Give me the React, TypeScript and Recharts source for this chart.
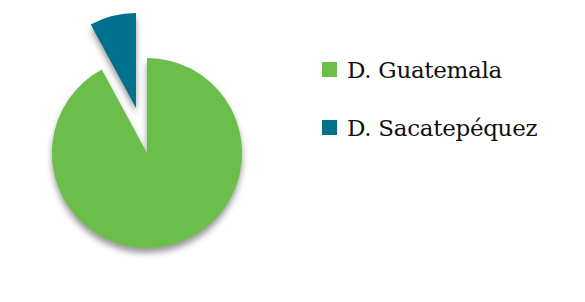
import { PieChart, Pie, Cell, Legend } from "recharts"

const departments = ["D. Guatemala", "D. Sacatepéquez"]
const shares = [92.1, 7.9]
const colors = ["#6cbe4b", "#00718d"]

const data = departments.map((name, i) => ({ name, value: shares[i] }))

const shadow = { filter: "drop-shadow(0px 5px 3px rgba(0,0,0,0.4))" }

function LegendList() {
  return (
    <div style={{ fontFamily: "'DejaVu Serif', serif", fontSize: 23, color: "#111", letterSpacing: -0.3 }}>
      {departments.map((name, i) => (
        <div key={name} style={{ display: "flex", alignItems: "center", height: 29, marginBottom: 29 }}>
          <span style={{ width: 15, height: 15, background: colors[i], marginRight: 10, display: "inline-block" }} />
          <span>{name}</span>
        </div>
      ))}
    </div>
  )
}

export default function App() {
  return (
    <div style={{ position: "absolute", left: 0, top: 0, width: 585, height: 302, background: "#fff" }}>
      <PieChart width={585} height={302}>
        {/* main pie: Guatemala slice only */}
        <Pie
          data={data}
          dataKey="value"
          nameKey="name"
          cx={142}
          cy={148}
          outerRadius={95}
          startAngle={90}
          endAngle={-270}
          stroke="none"
          isAnimationActive={false}
        >
          {data.map((_, i) => (
            <Cell key={i} fill={i === 0 ? colors[0] : "transparent"} style={i === 0 ? shadow : undefined} />
          ))}
        </Pie>
        {/* exploded Sacatepéquez slice */}
        <Pie
          data={data}
          dataKey="value"
          nameKey="name"
          cx={131}
          cy={103}
          outerRadius={95}
          startAngle={90}
          endAngle={-270}
          stroke="none"
          isAnimationActive={false}
        >
          {data.map((_, i) => (
            <Cell key={i} fill={i === 1 ? colors[1] : "transparent"} style={i === 1 ? shadow : undefined} />
          ))}
        </Pie>
        <Legend
          layout="vertical"
          content={() => <LegendList />}
          wrapperStyle={{ left: 322, top: 55, width: 260 }}
        />
      </PieChart>
    </div>
  )
}
